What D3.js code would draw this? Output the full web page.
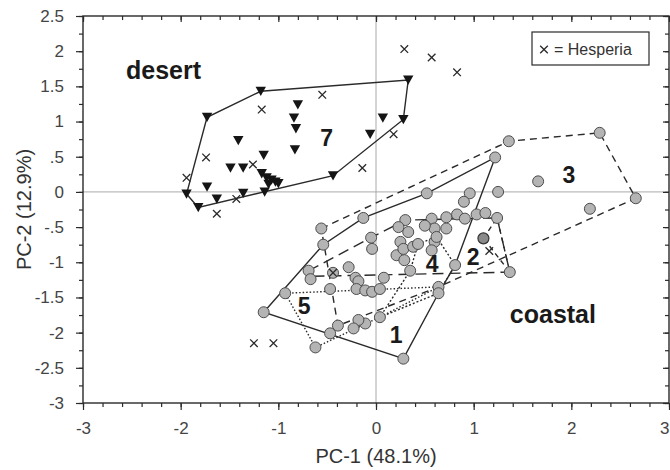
<!DOCTYPE html>
<html>
<head>
<meta charset="utf-8">
<script src="https://cdn.jsdelivr.net/npm/d3@7"></script>
<style>
  body { margin: 0; background: #fff; }
  svg { display: block; }
  text { font-family: "Liberation Sans", Arial, Helvetica, sans-serif; }
</style>
</head>
<body>
<svg id="chart" width="670" height="470"></svg>
<script>
// ---- Axis ticks ----
const xTickValues = [-3, -2, -1, 0, 1, 2, 3];
const xTickLabels = ["-3", "-2", "-1", "0", "1", "2", "3"];
const yTickValues = [2.5, 2, 1.5, 1, 0.5, 0, -0.5, -1, -1.5, -2, -2.5, -3];
const yTickLabels = ["2.5", "2", "1.5", "1", ".5", "0", "-.5", "-1", "-1.5", "-2", "-2.5", "-3"];
const xTitle = "PC-1 (48.1%)";
const yTitle = "PC-2 (12.9%)";

// ---- Desert specimens (PC-1, PC-2) ----
const desertPoints = [
  [0.33, 1.59], [0.28, 1.03], [0.07, 1.05], [-0.06, 0.82], [-0.44, 0.23],
  [-0.80, 1.24], [-0.84, 1.05], [-0.82, 0.90], [-0.83, 0.60], [-1.15, 0.52],
  [-1.41, 0.73], [-1.49, 0.34], [-1.36, 0.34], [-1.17, 0.26], [-1.07, 0.17],
  [-1.03, 0.14], [-1.10, 0.11], [-1.14, 0.00], [-1.18, 1.43], [-1.73, 1.06],
  [-1.73, 0.07], [-1.63, -0.10], [-1.36, -0.02], [-1.82, -0.22], [-1.94, -0.03],
  [-1.00, 0.12], [-1.12, 0.20]
];

// ---- Coastal specimens (PC-1, PC-2) ----
const coastalPoints = [
  [1.36, 0.72], [2.29, 0.84], [1.22, 0.49], [1.66, 0.15], [2.66, -0.09], [2.19, -0.24],
  [0.52, -0.02], [0.96, -0.02], [1.25, 0.00], [0.90, -0.14],
  [-0.13, -0.37], [-0.56, -0.52], [-0.54, -0.75], [-0.05, -0.65], [-0.04, -0.81],
  [0.30, -0.40], [0.33, -0.57], [0.25, -0.71], [0.21, -0.90], [0.29, -0.97],
  [0.35, -1.12], [0.28, -0.81], [0.23, -0.50], [0.38, -0.78],
  [0.57, -0.38], [0.60, -0.52], [0.50, -0.48], [0.72, -0.52], [0.72, -0.36],
  [0.83, -0.32], [0.91, -0.38], [1.03, -0.32], [1.12, -0.30], [1.24, -0.37],
  [0.43, -0.74], [0.60, -0.71], [0.62, -0.64], [0.57, -0.83], [0.81, -1.04],
  [0.64, -1.35], [0.64, -1.44], [1.37, -1.14],
  [-0.69, -1.12], [-0.67, -1.24], [-0.44, -1.15], [-0.28, -1.07], [-0.21, -1.22],
  [-0.18, -1.27], [-0.20, -1.38], [-0.11, -1.40], [-0.04, -1.42], [0.04, -1.38],
  [0.08, -1.22], [-0.47, -1.38],
  [-1.15, -1.71], [-0.93, -1.44],
  [0.04, -1.78], [-0.11, -1.87], [-0.18, -1.82], [-0.23, -1.94], [-0.39, -1.90],
  [-0.47, -2.01], [-0.62, -2.21], [0.28, -2.37]
];
// one darker coastal specimen
const coastalDark = [[1.10, -0.66]];

// ---- Hesperia specimens (PC-1, PC-2) ----
const hesperiaPoints = [
  [0.29, 2.03], [0.57, 1.91], [0.83, 1.70], [-0.55, 1.38], [-1.17, 1.17],
  [-1.74, 0.49], [-1.26, 0.39], [-1.94, 0.20], [-1.43, -0.10], [-1.63, -0.31],
  [-0.14, 0.34], [0.18, 0.82], [-0.44, -1.15], [1.16, -0.84], [-1.25, -2.15],
  [-1.05, -2.15]
];

// ---- Convex hulls of the populations ----
const hull7 = [[0.33, 1.59], [0.28, 1.03], [-0.44, 0.23], [-1.82, -0.22], [-1.94, -0.03], [-1.73, 1.06], [-1.18, 1.43]];
const hull1 = [[-1.15, -1.71], [-0.54, -0.75], [-0.13, -0.37], [0.52, -0.02], [1.22, 0.49], [0.81, -1.04], [0.64, -1.44], [0.28, -2.37]];
const hull3 = [[-0.56, -0.52], [1.36, 0.72], [2.29, 0.84], [2.66, -0.09], [0.64, -1.35], [-0.39, -1.90]];
const hull6 = [[-0.69, -1.12], [-0.05, -0.65], [0.30, -0.40], [1.24, -0.37], [1.37, -1.14], [-0.67, -1.20]];
const hull2 = [[1.10, -0.66], [1.24, -0.37], [1.37, -1.14]];
const hull4 = [[0.43, -0.74], [0.62, -0.64], [0.81, -1.04], [0.64, -1.44], [0.04, -1.78], [0.35, -1.12]];
const hull5 = [[-0.93, -1.44], [0.64, -1.35], [0.04, -1.78], [-0.62, -2.21]];

// ---- Group / region labels (text, PC-1, PC-2 of label start) ----
const groupLabels = [
  ["7", -0.57, 0.65], ["3", 1.91, 0.12], ["2", 0.93, -1.04], ["4", 0.51, -1.14],
  ["5", -0.80, -1.73], ["1", 0.14, -2.15]
];
const regionLabels = [["desert", -2.56, 1.60], ["coastal", 1.37, -1.87]];

// ---- Layout ----
const svg = d3.select("#chart");
const plotLeft = 83, plotRight = 669, plotTop = 16, plotBottom = 403;
const x = d3.scaleLinear().domain([-3, 3]).range([plotLeft, plotRight]);
const y = d3.scaleLinear().domain([-3, 2.5]).range([plotBottom, plotTop]);
const ink = "#2a2a2a";

// zero reference lines
svg.append("line").attr("x1", x(0)).attr("x2", x(0)).attr("y1", plotTop).attr("y2", plotBottom)
  .attr("stroke", "#aaa").attr("stroke-width", 1);
svg.append("line").attr("x1", plotLeft).attr("x2", plotRight).attr("y1", y(0)).attr("y2", y(0))
  .attr("stroke", "#aaa").attr("stroke-width", 1);

// hulls
const hullLine = d3.line().x(d => x(d[0])).y(d => y(d[1])).curve(d3.curveLinearClosed);
const hulls = [
  { pts: hull7, dash: null },
  { pts: hull1, dash: null },
  { pts: hull3, dash: "7,5" },
  { pts: hull6, dash: "11,6" },
  { pts: hull2, dash: "5,4" },
  { pts: hull4, dash: "2,2" },
  { pts: hull5, dash: "1.5,2" }
];
svg.append("g").selectAll("path").data(hulls).join("path")
  .attr("d", d => hullLine(d.pts))
  .attr("fill", "none")
  .attr("stroke", ink)
  .attr("stroke-width", 1.4)
  .attr("stroke-dasharray", d => d.dash);

// coastal circles
svg.append("g").selectAll("circle").data(coastalPoints).join("circle")
  .attr("cx", d => x(d[0])).attr("cy", d => y(d[1])).attr("r", 5.5)
  .attr("fill", "#b4b4b4").attr("stroke", "#4d4d4d").attr("stroke-width", 1);
svg.append("g").selectAll("circle").data(coastalDark).join("circle")
  .attr("cx", d => x(d[0])).attr("cy", d => y(d[1])).attr("r", 5.5)
  .attr("fill", "#8a8a8a").attr("stroke", "#333").attr("stroke-width", 1.2);

// desert triangles (pointing down)
svg.append("g").selectAll("path").data(desertPoints).join("path")
  .attr("transform", d => `translate(${x(d[0])},${y(d[1])})`)
  .attr("d", "M-5.2,-4.5L5.2,-4.5L0,4.8Z")
  .attr("fill", "#151515");

// Hesperia crosses
const cross = "M-3.8,-3.8L3.8,3.8M-3.8,3.8L3.8,-3.8";
svg.append("g").selectAll("path").data(hesperiaPoints).join("path")
  .attr("transform", d => `translate(${x(d[0])},${y(d[1])})`)
  .attr("d", cross)
  .attr("stroke", "#2a2a2a").attr("stroke-width", 1.3).attr("fill", "none");

// labels
svg.append("g").selectAll("text").data(groupLabels).join("text")
  .attr("x", d => x(d[1])).attr("y", d => y(d[2]))
  .attr("font-size", 23).attr("font-weight", "bold").attr("fill", "#1a1a1a")
  .text(d => d[0]);
svg.append("g").selectAll("text").data(regionLabels).join("text")
  .attr("x", d => x(d[1])).attr("y", d => y(d[2]))
  .attr("font-size", 25).attr("font-weight", "bold").attr("fill", "#1a1a1a")
  .text(d => d[0]);

// frame
svg.append("rect").attr("x", plotLeft).attr("y", plotTop)
  .attr("width", plotRight - plotLeft).attr("height", plotBottom - plotTop)
  .attr("fill", "none").attr("stroke", ink).attr("stroke-width", 1.4);

// axes
const xMinor = d3.range(-3, 3.001, 0.2).map(v => +v.toFixed(2));
const yMinor = d3.range(-3, 2.501, 0.25).map(v => +v.toFixed(2));

function styleAxis(g) {
  g.select(".domain").remove();
  g.selectAll("line").attr("stroke", ink).attr("stroke-width", 1.2);
  g.selectAll("text").attr("font-size", 17).attr("fill", "#444")
    .attr("font-family", "'Liberation Sans', Arial, sans-serif");
}

// bottom
svg.append("g").attr("transform", `translate(0,${plotBottom})`)
  .call(d3.axisBottom(x).tickValues(xMinor).tickSize(4).tickFormat(""))
  .call(styleAxis);
const xAxisG = svg.append("g").attr("transform", `translate(0,${plotBottom})`)
  .call(d3.axisBottom(x).tickValues(xTickValues).tickSize(7).tickPadding(12)
    .tickFormat((d, i) => xTickLabels[i]))
  .call(styleAxis);
// keep the last x label inside the page edge
xAxisG.selectAll(".tick text").filter(d => d === 3)
  .attr("text-anchor", "end").attr("x", 0);
// top (inward)
svg.append("g").attr("transform", `translate(0,${plotTop})`)
  .call(d3.axisBottom(x).tickValues(xMinor).tickSize(4).tickFormat(""))
  .call(styleAxis);
svg.append("g").attr("transform", `translate(0,${plotTop})`)
  .call(d3.axisBottom(x).tickValues(xTickValues).tickSize(6).tickFormat(""))
  .call(styleAxis);
// left
svg.append("g").attr("transform", `translate(${plotLeft},0)`)
  .call(d3.axisLeft(y).tickValues(yMinor).tickSize(4).tickFormat(""))
  .call(styleAxis);
svg.append("g").attr("transform", `translate(${plotLeft},0)`)
  .call(d3.axisLeft(y).tickValues(yTickValues).tickSize(7).tickPadding(12)
    .tickFormat((d, i) => yTickLabels[i]))
  .call(styleAxis);
// right (inward)
svg.append("g").attr("transform", `translate(${plotRight},0)`)
  .call(d3.axisLeft(y).tickValues(yMinor).tickSize(4).tickFormat(""))
  .call(styleAxis);
svg.append("g").attr("transform", `translate(${plotRight},0)`)
  .call(d3.axisLeft(y).tickValues(yTickValues).tickSize(6).tickFormat(""))
  .call(styleAxis);

// axis titles
svg.append("text").attr("x", (plotLeft + plotRight) / 2).attr("y", 463)
  .attr("text-anchor", "middle").attr("font-size", 20).attr("fill", "#333")
  .text(xTitle);
svg.append("text").attr("transform", `translate(31,${(plotTop + plotBottom) / 2}) rotate(-90)`)
  .attr("text-anchor", "middle").attr("font-size", 20).attr("fill", "#333")
  .text(yTitle);

// legend
const legend = svg.append("g").attr("transform", "translate(532,32)");
legend.append("rect").attr("width", 117).attr("height", 33)
  .attr("fill", "#fff").attr("stroke", ink).attr("stroke-width", 1.2);
legend.append("path").attr("transform", "translate(12,17.5)").attr("d", cross)
  .attr("stroke", "#2a2a2a").attr("stroke-width", 1.3).attr("fill", "none");
legend.append("text").attr("x", 22).attr("y", 23).attr("font-size", 16).attr("fill", "#333")
  .text("= Hesperia");
</script>
</body>
</html>
